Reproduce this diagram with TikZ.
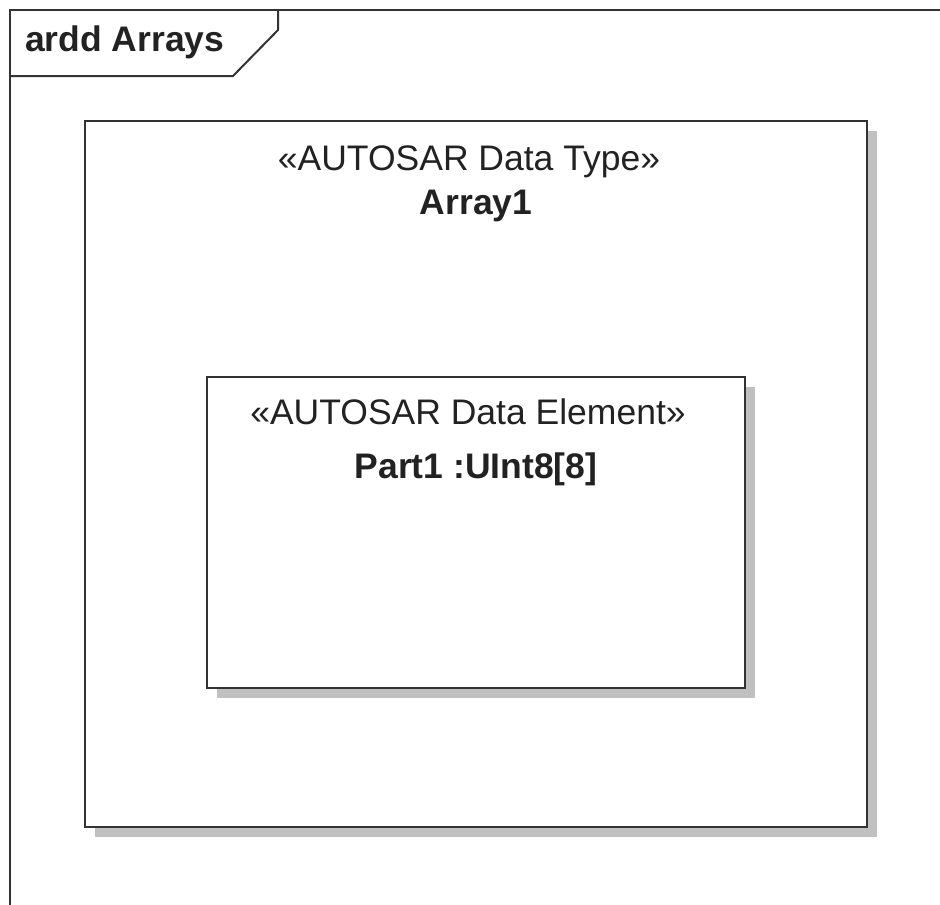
\documentclass[tikz,border=0pt]{standalone}
\usepackage{fontspec}
\setmainfont{Liberation Sans}
\usepackage{xcolor}
\usepackage{tikz}
\usetikzlibrary{shadows}
\usetikzlibrary{positioning}

\definecolor{umlline}{HTML}{333333}
\definecolor{umltext}{HTML}{222222}
\definecolor{umlshadow}{HTML}{C0C0C0}

\begin{document}
\begin{tikzpicture}[x=1pt,y=-1pt]
    \tikzstyle{every node}=[text=umltext,font=\fontsize{35.5}{42}\selectfont,inner sep=0pt]
    \tikzstyle{frameline}=[draw=umlline,line width=2pt]
    \tikzstyle{umlbox}=[draw=umlline,fill=white,line width=2pt,
        general shadow={fill=umlshadow,draw=none,shadow xshift=10pt,shadow yshift=-10pt}]

    \useasboundingbox (0,0) rectangle (940,905) ;

    % diagram frame
    \draw[frameline] (10,905) -- (10,10) -- (940,10) ;
    \node[font=\fontsize{35.5}{42}\selectfont\bfseries,anchor=west] (title) at (25,42) {ardd Arrays} ;
    \draw[frameline] (278,10) -- (278,30) -- (233,76) -- (10,76) ;

    \node[umlbox,minimum width=782pt,minimum height=706pt] (array) at (476,474) {} ;
    \node (arraytype) at ([xshift=-7pt,yshift=-42pt]array.north) {«AUTOSAR Data Type»} ;
    \node[font=\fontsize{35.5}{42}\selectfont\bfseries] (arrayname) at ([yshift=-86pt]array.north) {Array1} ;

    \node[umlbox,minimum width=538pt,minimum height=311pt] (part) at (476,532.5) {} ;
    \node (parttype) at ([xshift=-8pt,yshift=-36pt]part.north) {«AUTOSAR Data Element»} ;
    \node[font=\fontsize{35.5}{42}\selectfont\bfseries] (partname) at ([yshift=-93pt]part.north) {Part1 :UInt8[8]} ;

\end{tikzpicture}
\end{document}
